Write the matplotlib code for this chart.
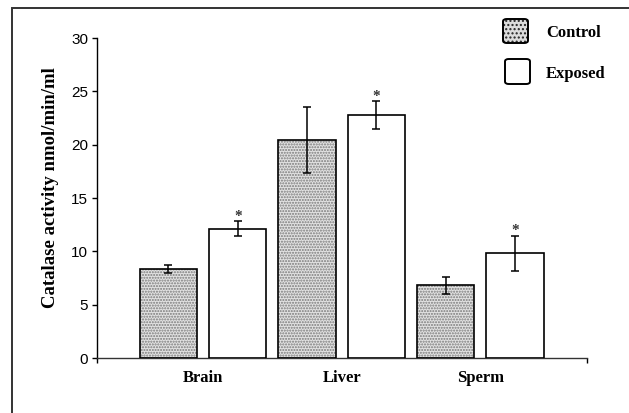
import matplotlib
matplotlib.use('Agg')
import matplotlib.pyplot as plt
from matplotlib.patches import Rectangle, FancyBboxPatch
import numpy as np

categories = ['Brain', 'Liver', 'Sperm']
control = [8.35, 20.4, 6.8]
control_err = [0.35, 3.1, 0.8]
exposed = [12.1, 22.75, 9.8]
exposed_err = [0.7, 1.3, 1.65]
exposed_sig = ['*', '*', '*']
series_labels = ['Control', 'Exposed']
yticks = [0, 5, 10, 15, 20, 25, 30]
ylabel = 'Catalase activity nmol/min/ml'

W, H = 629, 413
fig = plt.figure(figsize=(W / 100, H / 100), dpi=100)
fig.patch.set_facecolor('white')


def fx(px):
    return px / W


def fy(py):
    return 1 - py / H


serif = ['Liberation Serif', 'DejaVu Serif']
sans = ['Liberation Sans Narrow', 'Liberation Sans', 'DejaVu Sans']

ax = fig.add_axes([fx(97), fy(358), fx(587) - fx(97), fy(38) - fy(358)])
ax.set_facecolor('none')

x = np.arange(len(categories))
off, bw = 0.25, 0.415
plt.rcParams['hatch.linewidth'] = 1.0

# control bars: stipple fill then black outline
ax.bar(x - off, control, bw, color='#e2e2e2', edgecolor='#7a7a7a', hatch='......', linewidth=0, zorder=2)
ax.bar(x - off, control, bw, fill=False, edgecolor='black', linewidth=1.2, zorder=3)
ax.bar(x + off, exposed, bw, color='white', edgecolor='black', linewidth=1.2, zorder=3)

ax.errorbar(x - off, control, yerr=control_err, fmt='none', ecolor='black', elinewidth=1.1,
            capsize=3, capthick=1.1, zorder=4)
ax.errorbar(x + off, exposed, yerr=exposed_err, fmt='none', ecolor='black', elinewidth=1.1,
            capsize=3, capthick=1.1, zorder=4)
for xi, v, e, s in zip(x + off, exposed, exposed_err, exposed_sig):
    ax.annotate(s, (xi, v + e), xytext=(0, -1), textcoords='offset points', ha='center', va='bottom',
                fontsize=11, color='#333333', family=serif, fontweight='bold')

ax.set_xlim(-0.765, 2.77)
ax.set_ylim(0, 30)
for sp in ['top', 'right']:
    ax.spines[sp].set_visible(False)
ax.spines['left'].set_linewidth(1.0)
ax.spines['bottom'].set_linewidth(1.0)
ax.spines['bottom'].set_color('#333333')

ax.set_yticks(yticks)
ax.set_yticklabels([str(t) for t in yticks], family=sans, fontsize=11)
ax.tick_params(axis='y', direction='out', length=3.5, width=1, pad=3)
ax.set_xticks([-0.765, 2.77])
ax.set_xticklabels(['', ''])
ax.tick_params(axis='x', which='major', direction='out', length=3.5, width=1)
ax.set_xticks(x, minor=True)
ax.set_xticklabels(categories, minor=True, family=serif, fontweight='bold', fontsize=12)
ax.tick_params(axis='x', which='minor', length=0, pad=9)

fig.text(fx(51), fy(188), ylabel, rotation=90, ha='center', va='center', family=serif,
         fontweight='bold', fontsize=13.5)

# legend (manual)
leg_items = [
    dict(facecolor='#dcdcdc', hatch='......', box=(503, 19, 528, 43), ty=33),
    dict(facecolor='white', hatch=None, box=(505, 59, 530, 84), ty=74),
]
for lab, it in zip(series_labels, leg_items):
    x0, y0, x1, y1 = it['box']
    if it['hatch']:
        p = FancyBboxPatch((fx(x0), fy(y1)), fx(x1) - fx(x0), fy(y0) - fy(y1),
                           boxstyle='round,pad=0,rounding_size=0.006', transform=fig.transFigure,
                           facecolor=it['facecolor'], edgecolor='#222222', hatch='....', linewidth=0)
        fig.patches.append(p)
    p2 = FancyBboxPatch((fx(x0), fy(y1)), fx(x1) - fx(x0), fy(y0) - fy(y1),
                        boxstyle='round,pad=0,rounding_size=0.006', transform=fig.transFigure,
                        facecolor='none' if it['hatch'] else 'white', edgecolor='black', linewidth=1.4)
    fig.patches.append(p2)
    fig.text(fx(546), fy(it['ty']), lab, ha='left', va='center', family=serif, fontweight='bold',
             fontsize=12)

# outer frame (left and top edges visible)
frame = Rectangle((fx(12), fy(800)), 2, fy(8) - fy(800), transform=fig.transFigure,
                  fill=False, edgecolor='#333333', linewidth=1.4)
fig.patches.append(frame)

fig.savefig('out.png', dpi=100, facecolor='white')
